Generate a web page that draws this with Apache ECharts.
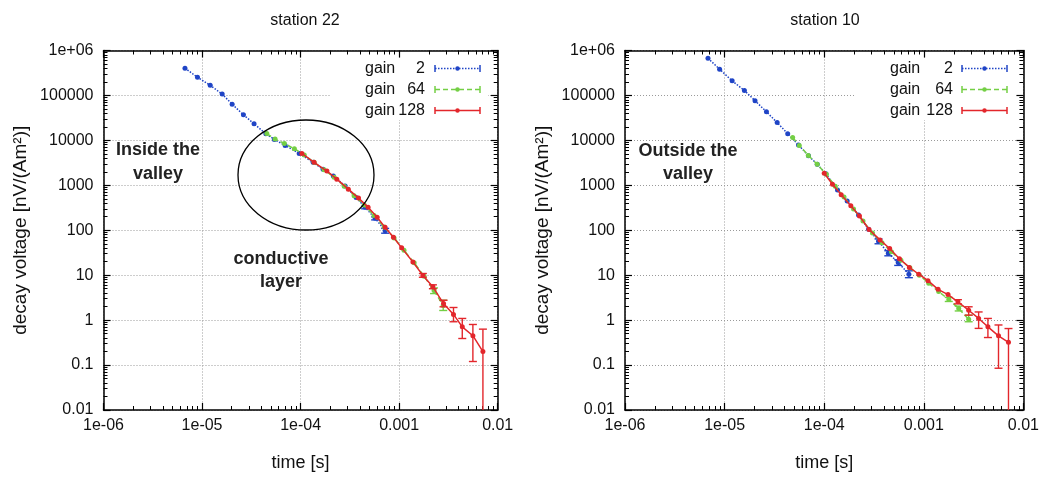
<!DOCTYPE html>
<html><head><meta charset="utf-8">
<script src="https://cdn.jsdelivr.net/npm/echarts@6/dist/echarts.min.js"></script>
<style>html,body{margin:0;padding:0;background:#fff}#c{width:1042px;height:477px}</style>
</head><body><div id="c"></div>
<script>
// ---------- tick labels ----------
const xTickLabels = ['1e-06', '1e-05', '1e-04', '0.001', '0.01'];   // 10^-6 .. 10^-2
const yTickLabels = ['0.01', '0.1', '1', '10', '100', '1000', '10000', '100000', '1e+06']; // 10^-2 .. 10^6
const panelTitles = ['station 22', 'station 10'];
const seriesNames = ['gain', 'gain', 'gain'];
const gainValues = ['2', '64', '128'];

// ---------- station 22 ----------
const s22_g2_t = [6.71e-6, 8.99e-6, 1.21e-5, 1.60e-5, 2.02e-5, 2.63e-5, 3.37e-5, 4.44e-5, 5.42e-5, 6.97e-5, 9.67e-5, 1.34e-4, 1.69e-4, 2.15e-4, 2.83e-4, 3.66e-4, 4.52e-4, 5.71e-4, 7.21e-4];
const s22_g2_v = [404000, 253000, 168000, 107000, 63800, 37100, 23400, 14000, 10500, 7710, 5130, 3240, 2270, 1610, 970, 537, 323, 184, 98];
const s22_g2_lo = [null, null, null, null, null, null, null, null, null, null, null, null, null, null, null, null, 300, 170, 86];
const s22_g2_hi = [null, null, null, null, null, null, null, null, null, null, null, null, null, null, null, null, 345, 198, 110];

const s22_g64_t = [4.54e-5, 5.51e-5, 6.85e-5, 8.65e-5, 1.09e-4, 1.37e-4, 1.73e-4, 2.19e-4, 2.77e-4, 3.49e-4, 4.42e-4, 5.57e-4, 7.05e-4, 8.89e-4, 1.12e-3, 1.42e-3, 1.79e-3, 2.26e-3, 2.80e-3];
const s22_g64_v = [14200, 10700, 8530, 6510, 4750, 3240, 2210, 1510, 955, 589, 363, 212, 118, 67.6, 35.7, 18.9, 9.5, 4.54, 2.11];
const s22_g64_lo = [null, null, null, null, null, null, null, null, null, null, null, null, null, null, null, null, null, 3.9, 1.64];
const s22_g64_hi = [null, null, null, null, null, null, null, null, null, null, null, null, null, null, null, null, null, 5.2, 2.77];

const s22_g128_t = [1.03e-4, 1.37e-4, 1.85e-4, 2.33e-4, 3.05e-4, 3.87e-4, 4.84e-4, 5.98e-4, 7.2e-4, 8.75e-4, 1.06e-3, 1.38e-3, 1.74e-3, 2.2e-3, 2.82e-3, 3.56e-3, 4.37e-3, 5.6e-3, 7.08e-3];
const s22_g128_v = [5130, 3240, 2080, 1370, 820, 519, 327, 194, 116, 70, 40.6, 19.6, 9.9, 5.5, 2.34, 1.34, 0.71, 0.45, 0.2];
const s22_g128_lo = [null, null, null, null, null, null, null, null, null, null, null, null, 9.0, 5.0, 1.98, 0.92, 0.39, 0.12, 0.001];
const s22_g128_hi = [null, null, null, null, null, null, null, null, null, null, null, null, 10.9, 6.1, 2.77, 1.91, 1.09, 0.80, 0.63];

// ---------- station 10 ----------
const s10_g2_t = [6.81e-6, 8.91e-6, 1.19e-5, 1.58e-5, 2.02e-5, 2.63e-5, 3.37e-5, 4.30e-5, 5.52e-5, 6.95e-5, 8.51e-5, 1.04e-4, 1.36e-4, 1.70e-4, 2.21e-4, 2.79e-4, 3.51e-4, 4.40e-4, 5.53e-4, 7.08e-4];
const s10_g2_v = [672000, 384000, 211000, 129000, 76400, 43200, 24900, 14100, 7910, 4560, 2930, 1810, 791, 445, 218, 105, 57.1, 30.7, 19.2, 10.5];
const s10_g2_lo = [null, null, null, null, null, null, null, null, null, null, null, null, null, null, null, null, 50, 27, 16.5, 8.8];
const s10_g2_hi = [null, null, null, null, null, null, null, null, null, null, null, null, null, null, null, null, 64, 35, 22, 12.5];

const s10_g64_t = [4.82e-5, 5.62e-5, 6.92e-5, 8.51e-5, 1.05e-4, 1.29e-4, 1.58e-4, 1.97e-4, 2.45e-4, 3.05e-4, 3.80e-4, 4.73e-4, 5.89e-4, 7.24e-4, 9.02e-4, 1.12e-3, 1.41e-3, 1.78e-3, 2.24e-3, 2.82e-3];
const s10_g64_v = [11600, 7710, 4630, 2930, 1760, 955, 546, 296, 161, 87, 52.4, 33.1, 21.5, 14.7, 10.0, 6.65, 4.31, 2.87, 1.82, 1.04];
const s10_g64_lo = [null, null, null, null, null, null, null, null, null, null, null, null, null, null, null, null, null, 2.6, 1.6, 0.92];
const s10_g64_hi = [null, null, null, null, null, null, null, null, null, null, null, null, null, null, null, null, null, 3.2, 2.05, 1.29];

const s10_g128_t = [1.0e-4, 1.21e-4, 1.48e-4, 1.85e-4, 2.26e-4, 2.82e-4, 3.63e-4, 4.54e-4, 5.69e-4, 7.16e-4, 8.91e-4, 1.10e-3, 1.39e-3, 1.75e-3, 2.20e-3, 2.82e-3, 3.55e-3, 4.40e-3, 5.62e-3, 7.08e-3];
const s10_g128_v = [1850, 1060, 620, 350, 207, 104, 61, 39.2, 23.2, 14.9, 10.5, 7.55, 4.85, 3.70, 2.55, 1.66, 1.09, 0.71, 0.447, 0.32];
const s10_g128_lo = [null, null, null, null, null, null, null, null, null, null, null, null, null, null, 2.3, 1.29, 0.655, 0.41, 0.085, 0.001];
const s10_g128_hi = [null, null, null, null, null, null, null, null, null, null, null, null, null, null, 2.85, 1.98, 1.52, 1.09, 0.78, 0.65];

// ---------- build ----------
const FONT = 'Liberation Sans, Arial, Helvetica, sans-serif';
const COLORS = ['#1f44c6', '#74cf45', '#e3262b'];
const LINE_TYPES = ['dotted', [5, 3], 'solid'];
const GRIDS = [
  {left: 103.5, top: 50.5, width: 394.2, height: 361.2},
  {left: 625, top: 50.5, width: 400, height: 361.2}
];

const xMinor = [], yMinor = [];
for (let k = -6; k < -2; k++) for (let m = 2; m <= 9; m++) xMinor.push(m * Math.pow(10, k));
for (let k = -2; k < 6; k++) for (let m = 2; m <= 9; m++) yMinor.push(m * Math.pow(10, k));

const labelFromLog = (arr, base) => v => { const i = Math.round(Math.log10(v)) - base; return arr[i] !== undefined ? arr[i] : ''; };

const xAxes = [], yAxes = [];
const AX = {color: '#000', width: 1.5};
GRIDS.forEach((g, gi) => {
  const baseX = {type: 'log', logBase: 10, min: 1e-6, max: 1e-2, gridIndex: gi, z: 0};
  const baseY = {type: 'log', logBase: 10, min: 0.01, max: 1e6, gridIndex: gi, z: 0};
  xAxes.push(Object.assign({}, baseX, {
    position: 'bottom',
    axisLine: {show: true, lineStyle: AX},
    axisTick: {show: true, inside: true, length: 7, lineStyle: {color: '#000', width: 1.2}},
    axisLabel: {show: true, margin: 8, color: '#111', fontSize: 16, fontFamily: FONT, formatter: labelFromLog(xTickLabels, -6)},
    splitLine: {show: true, lineStyle: {color: '#9a9a9a', width: 1, type: [1, 2]}},
    minorTick: {show: false}, minorSplitLine: {show: false},
    name: 'time [s]', nameLocation: 'middle', nameGap: 44,
    nameTextStyle: {color: '#111', fontSize: 18, fontFamily: FONT}
  }));
  xAxes.push(Object.assign({}, baseX, {
    position: 'bottom', axisLine: {show: false}, axisLabel: {show: false}, splitLine: {show: false},
    axisTick: {show: true, inside: true, length: 4, customValues: xMinor, lineStyle: {color: '#000', width: 1}}
  }));
  xAxes.push(Object.assign({}, baseX, {
    position: 'top', axisLine: {show: true, onZero: false, lineStyle: AX}, axisLabel: {show: false}, splitLine: {show: false},
    axisTick: {show: true, inside: true, length: 7, lineStyle: {color: '#000', width: 1.2}}
  }));
  xAxes.push(Object.assign({}, baseX, {
    position: 'top', axisLine: {show: false}, axisLabel: {show: false}, splitLine: {show: false},
    axisTick: {show: true, inside: true, length: 4, customValues: xMinor, lineStyle: {color: '#000', width: 1}}
  }));

  yAxes.push(Object.assign({}, baseY, {
    position: 'left',
    axisLine: {show: true, lineStyle: AX},
    axisTick: {show: true, inside: true, length: 7, lineStyle: {color: '#000', width: 1.2}},
    axisLabel: {show: true, margin: 10, color: '#111', fontSize: 16, fontFamily: FONT, formatter: labelFromLog(yTickLabels, -2)},
    splitLine: {show: true, lineStyle: {color: '#9a9a9a', width: 1, type: [1, 2]}},
    minorTick: {show: false}, minorSplitLine: {show: false},
    name: 'decay voltage [nV/(Am²)]', nameLocation: 'middle', nameGap: 73, nameRotate: 90,
    nameTextStyle: {color: '#111', fontSize: 19, fontFamily: FONT}
  }));
  yAxes.push(Object.assign({}, baseY, {
    position: 'left', axisLine: {show: false}, axisLabel: {show: false}, splitLine: {show: false},
    axisTick: {show: true, inside: true, length: 4, customValues: yMinor, lineStyle: {color: '#000', width: 1}}
  }));
  yAxes.push(Object.assign({}, baseY, {
    position: 'right', axisLine: {show: true, onZero: false, lineStyle: AX}, axisLabel: {show: false}, splitLine: {show: false},
    axisTick: {show: true, inside: true, length: 7, lineStyle: {color: '#000', width: 1.2}}
  }));
  yAxes.push(Object.assign({}, baseY, {
    position: 'right', axisLine: {show: false}, axisLabel: {show: false}, splitLine: {show: false},
    axisTick: {show: true, inside: true, length: 4, customValues: yMinor, lineStyle: {color: '#000', width: 1}}
  }));
});

function errRender(color) {
  return function (params, api) {
    const t = api.value(0), lo = api.value(1), hi = api.value(2);
    const pHi = api.coord([t, hi]), pLo = api.coord([t, lo]);
    const cs = params.coordSys;
    const top = cs.y, bottom = cs.y + cs.height;
    const x = pHi[0];
    const y1 = Math.max(pHi[1], top), y2 = Math.min(pLo[1], bottom);
    const st = {stroke: color, lineWidth: 1.4};
    const ch = [{type: 'line', shape: {x1: x, y1: y1, x2: x, y2: y2}, style: st}];
    const w = 4;
    if (pHi[1] >= top) ch.push({type: 'line', shape: {x1: x - w, y1: pHi[1], x2: x + w, y2: pHi[1]}, style: st});
    if (pLo[1] <= bottom) ch.push({type: 'line', shape: {x1: x - w, y1: pLo[1], x2: x + w, y2: pLo[1]}, style: st});
    return {type: 'group', children: ch};
  };
}

const panels = [
  [[s22_g2_t, s22_g2_v, s22_g2_lo, s22_g2_hi], [s22_g64_t, s22_g64_v, s22_g64_lo, s22_g64_hi], [s22_g128_t, s22_g128_v, s22_g128_lo, s22_g128_hi]],
  [[s10_g2_t, s10_g2_v, s10_g2_lo, s10_g2_hi], [s10_g64_t, s10_g64_v, s10_g64_lo, s10_g64_hi], [s10_g128_t, s10_g128_v, s10_g128_lo, s10_g128_hi]]
];

const series = [];
panels.forEach((p, gi) => {
  p.forEach((s, si) => {
    const [t, v, lo, hi] = s;
    series.push({
      type: 'line', name: seriesNames[si] + ' ' + gainValues[si],
      xAxisIndex: gi * 4, yAxisIndex: gi * 4, z: 2 + si,
      data: t.map((tt, i) => [tt, v[i]]),
      symbol: 'circle', symbolSize: 5, showSymbol: true,
      lineStyle: {color: COLORS[si], width: 1.5, type: LINE_TYPES[si]},
      itemStyle: {color: COLORS[si]},
      animation: false, silent: true
    });
    const ed = [];
    t.forEach((tt, i) => { if (lo[i] != null && hi[i] != null) ed.push([tt, lo[i], hi[i]]); });
    series.push({
      type: 'custom', xAxisIndex: gi * 4, yAxisIndex: gi * 4, z: 2 + si,
      data: ed, encode: {x: 0, y: [1, 2]}, renderItem: errRender(COLORS[si]),
      animation: false, silent: true
    });
  });
});

// legend boxes (white background like gnuplot key) + key entries
const graphics = [];
const legendBoxes = [{x: 331, y: 59, w: 157, h: 61}, {x: 856, y: 59, w: 160, h: 61}];
const legendPos = [{gx: 365, nx: 425, lx1: 435, lx2: 480}, {gx: 890, nx: 953, lx1: 962, lx2: 1007}];
const rowY = [68.5, 89.5, 110.5];
legendBoxes.forEach(b => graphics.push({type: 'rect', z: 1, shape: {x: b.x, y: b.y, width: b.w, height: b.h}, style: {fill: '#fff'}, silent: true}));
legendPos.forEach(L => {
  rowY.forEach((y, si) => {
    graphics.push({type: 'text', z: 10, x: L.gx, y: y, style: {text: seriesNames[si], fill: '#111', font: '16px ' + FONT, textAlign: 'left', textVerticalAlign: 'middle'}});
    graphics.push({type: 'text', z: 10, x: L.nx, y: y, style: {text: gainValues[si], fill: '#111', font: '16px ' + FONT, textAlign: 'right', textVerticalAlign: 'middle'}});
    const st = {stroke: COLORS[si], lineWidth: 1.5, lineDash: si === 0 ? [1.5, 1.5] : (si === 1 ? [5, 3] : null)};
    graphics.push({type: 'line', z: 10, shape: {x1: L.lx1, y1: y, x2: L.lx2, y2: y}, style: st});
    graphics.push({type: 'line', z: 10, shape: {x1: L.lx1, y1: y - 3.5, x2: L.lx1, y2: y + 3.5}, style: {stroke: COLORS[si], lineWidth: 1.5}});
    graphics.push({type: 'line', z: 10, shape: {x1: L.lx2, y1: y - 3.5, x2: L.lx2, y2: y + 3.5}, style: {stroke: COLORS[si], lineWidth: 1.5}});
    graphics.push({type: 'circle', z: 10, shape: {cx: (L.lx1 + L.lx2) / 2, cy: y, r: 2.2}, style: {fill: COLORS[si]}});
  });
});

// annotations
const notes = [
  {text: 'Inside the', x: 158, y: 150}, {text: 'valley', x: 158, y: 174},
  {text: 'conductive', x: 281, y: 259}, {text: 'layer', x: 281, y: 282},
  {text: 'Outside the', x: 688, y: 151}, {text: 'valley', x: 688, y: 174}
];
notes.forEach(n => graphics.push({type: 'text', z: 10, x: n.x, y: n.y, style: {text: n.text, fill: '#222', font: 'bold 18px ' + FONT, textAlign: 'center', textVerticalAlign: 'middle'}}));
graphics.push({type: 'ellipse', z: 10, shape: {cx: 306, cy: 175, rx: 68, ry: 55}, style: {fill: null, stroke: '#000', lineWidth: 1.3}});

const chart = echarts.init(document.getElementById('c'), null, {renderer: 'canvas'});
chart.setOption({
  animation: false,
  backgroundColor: '#fff',
  title: [
    {text: panelTitles[0], left: 300, top: 8, textAlign: 'center', textStyle: {fontSize: 16, fontWeight: 'normal', color: '#111', fontFamily: FONT}},
    {text: panelTitles[1], left: 820, top: 8, textAlign: 'center', textStyle: {fontSize: 16, fontWeight: 'normal', color: '#111', fontFamily: FONT}}
  ],
  grid: GRIDS.map(g => Object.assign({containLabel: false}, g)),
  xAxis: xAxes,
  yAxis: yAxes,
  series: series,
  graphic: {elements: graphics}
});
</script></body></html>
